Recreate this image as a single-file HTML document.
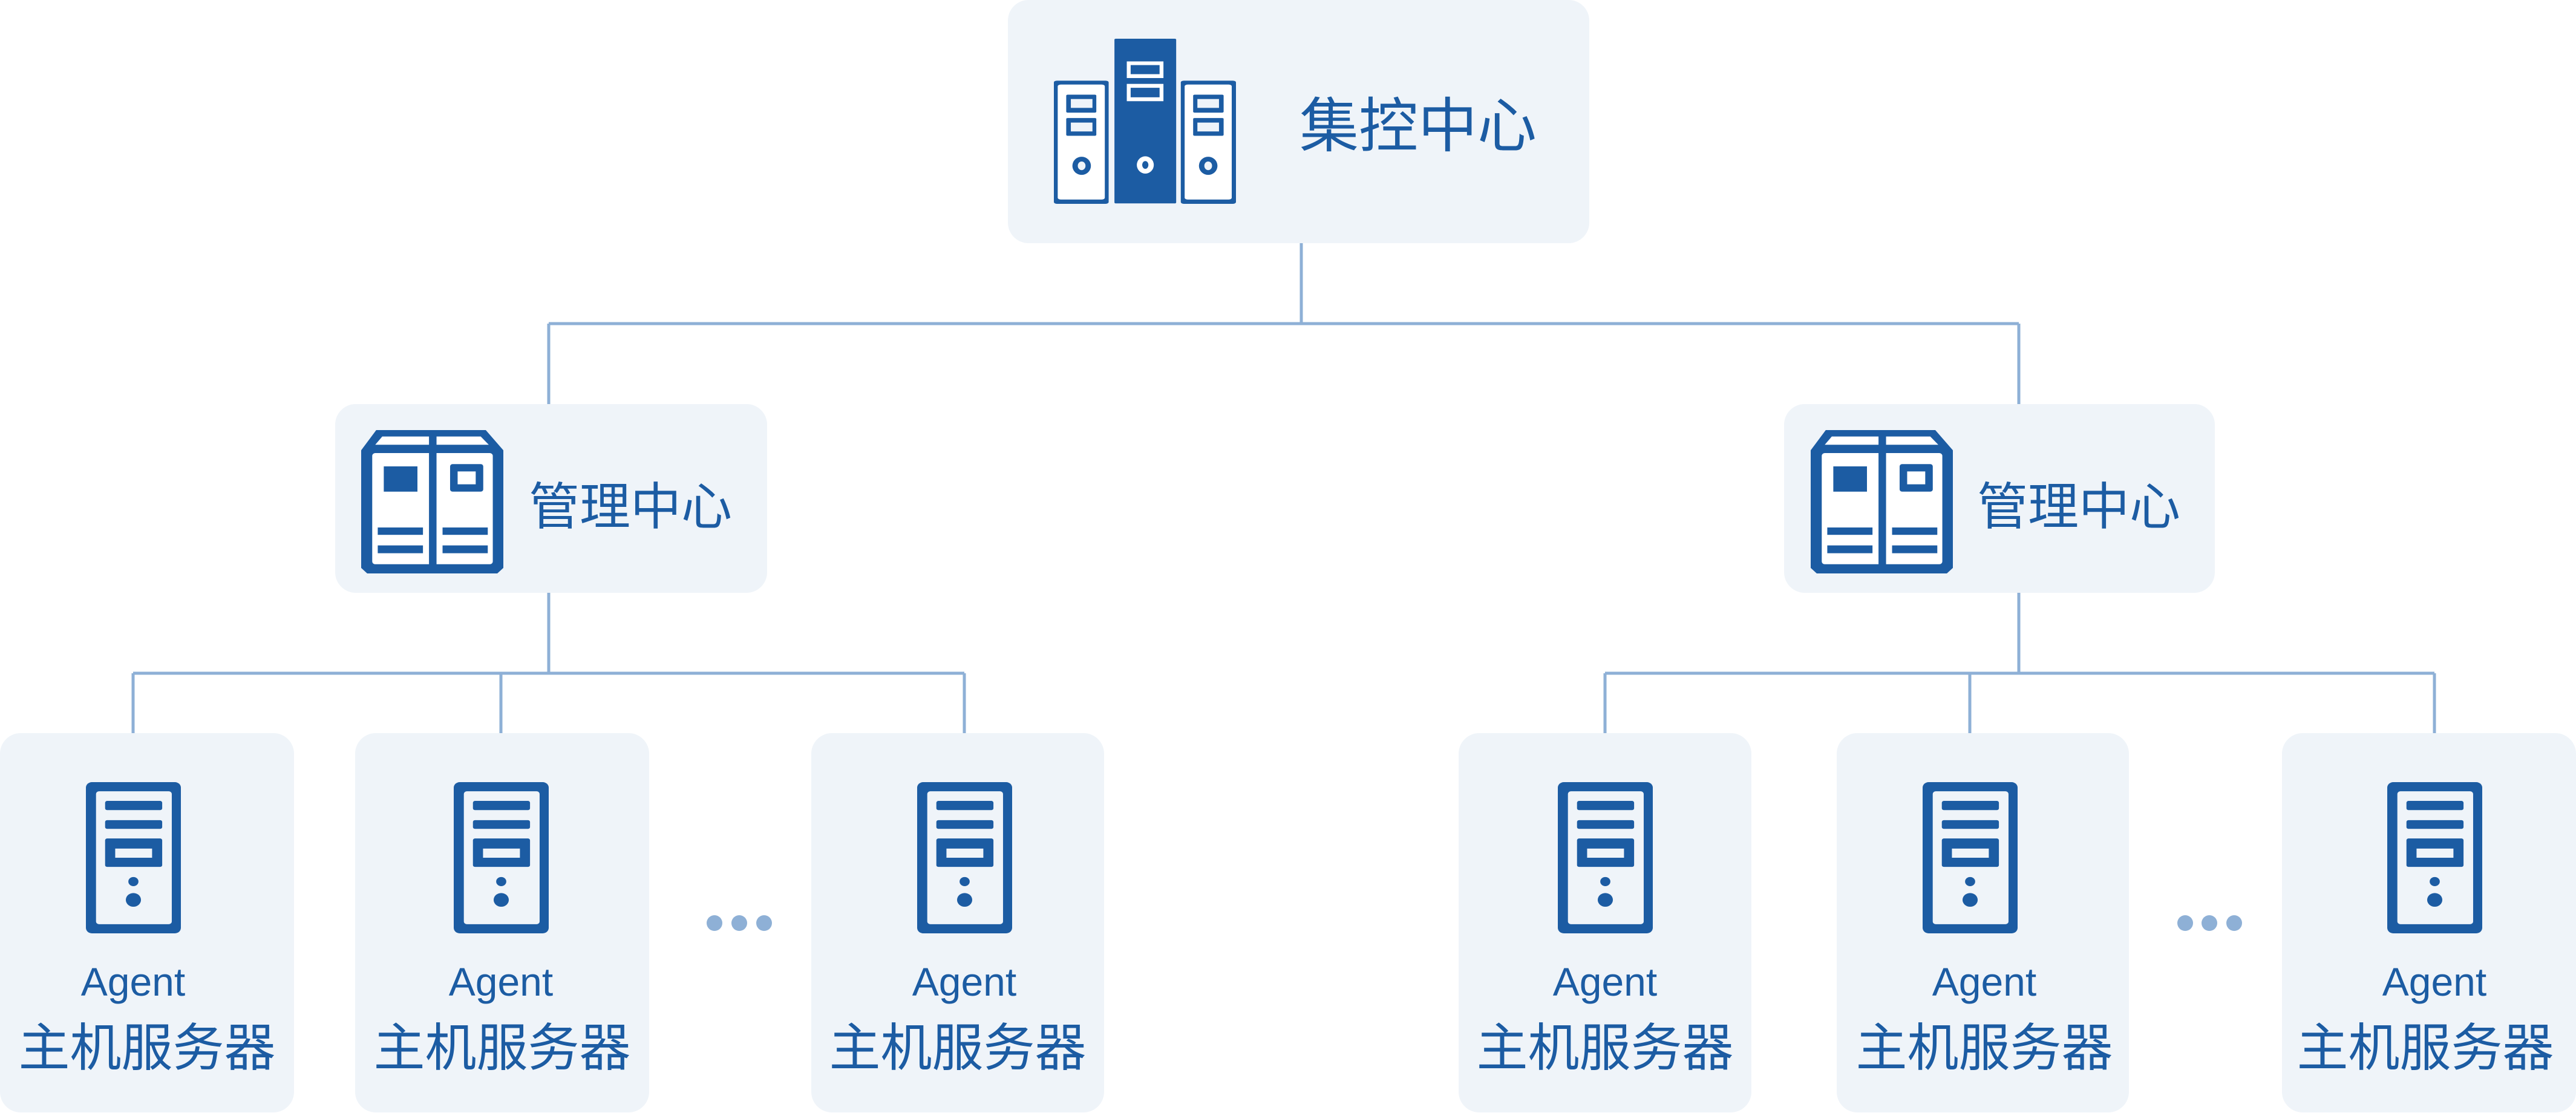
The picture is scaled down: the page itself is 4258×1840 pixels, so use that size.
<!DOCTYPE html>
<html><head><meta charset="utf-8"><style>
html,body{margin:0;padding:0;background:#fff;}
body{width:4258px;height:1840px;position:relative;overflow:hidden;font-family:"Liberation Sans","Noto Sans CJK SC",sans-serif;color:#1c5ca3;}
.box{position:absolute;background:#eff4f9;border-radius:34px;}
.t{position:absolute;white-space:nowrap;text-align:center;}
svg.ic{position:absolute;}
</style></head><body>
<svg style="position:absolute;left:0;top:0" width="4258" height="1840">
<g stroke="#8eb0d6" stroke-width="5" fill="none">
<line x1="2151" y1="400" x2="2151" y2="535"/>
<line x1="907" y1="535" x2="3337" y2="535"/>
<line x1="907" y1="535" x2="907" y2="670"/>
<line x1="3337" y1="535" x2="3337" y2="670"/>
<line x1="907" y1="978" x2="907" y2="1113"/>
<line x1="3337" y1="978" x2="3337" y2="1113"/>
<line x1="220" y1="1113" x2="1594" y2="1113"/>
<line x1="2653" y1="1113" x2="4024" y2="1113"/>
<line x1="220" y1="1113" x2="220" y2="1213"/>
<line x1="828" y1="1113" x2="828" y2="1213"/>
<line x1="1594" y1="1113" x2="1594" y2="1213"/>
<line x1="2653" y1="1113" x2="2653" y2="1213"/>
<line x1="3256" y1="1113" x2="3256" y2="1213"/>
<line x1="4024" y1="1113" x2="4024" y2="1213"/>
</g>
<g fill="#8eb0d6">
<circle cx="1181" cy="1526" r="13"/><circle cx="1222" cy="1526" r="13"/><circle cx="1263" cy="1526" r="13"/>
<circle cx="3612" cy="1526" r="13"/><circle cx="3652" cy="1526" r="13"/><circle cx="3693" cy="1526" r="13"/>
</g>
</svg>

<!-- top -->
<div class="box" style="left:1666px;top:0;width:961px;height:402px;"></div>
<svg class="ic" style="left:1742px;top:64px" width="301" height="273" viewBox="128 178 472 764" preserveAspectRatio="none">
<g fill="#1c5ca3">
<rect x="128" y="372" width="142" height="570" rx="8"/>
<rect x="457" y="372" width="143" height="570" rx="8"/>
<rect x="285" y="178" width="160" height="762" rx="4"/>
</g>
<g fill="#fff">
<rect x="138" y="390" width="122" height="532" rx="8"/>
<rect x="467" y="390" width="122" height="532" rx="8"/>
<rect x="317" y="283" width="95" height="77"/><rect x="317" y="387" width="95" height="80"/>
<ellipse cx="365" cy="762" rx="22" ry="40"/>
</g>
<g fill="#1c5ca3">
<rect x="327" y="300" width="75" height="42"/><rect x="327" y="405" width="75" height="44"/>
<ellipse cx="365" cy="762" rx="8" ry="18"/>
<rect x="160" y="437" width="78" height="83" rx="4"/><rect x="160" y="545" width="78" height="82" rx="4"/>
<rect x="489" y="437" width="79" height="83" rx="4"/><rect x="489" y="545" width="79" height="82" rx="4"/>
<ellipse cx="200" cy="766" rx="24" ry="42"/><ellipse cx="528" cy="766" rx="24" ry="42"/>
</g>
<g fill="#eff4f9">
<rect x="172" y="457" width="56" height="41"/><rect x="172" y="566" width="56" height="41"/>
<rect x="500" y="457" width="56" height="41"/><rect x="500" y="566" width="56" height="41"/>
<ellipse cx="200" cy="766" rx="10" ry="20"/><ellipse cx="528" cy="766" rx="10" ry="20"/>
</g>
</svg>
<div class="t" style="left:2148px;top:148px;font-size:98px;line-height:120px;">集控中心</div>

<!-- mid boxes -->
<div class="box" style="left:554px;top:668px;width:714px;height:312px;"></div>
<div class="box" style="left:2949px;top:668px;width:712px;height:312px;"></div>

<svg width="0" height="0" style="position:absolute">
<defs>
<g id="mid">
<polygon fill="#1c5ca3" points="750,78 968,78 1003,122 1003,378 991,390 732,390 720,378 720,122"/>
<rect fill="#fff" x="742" y="128" width="240" height="242" rx="6"/>
<polygon fill="#fff" points="762,92 958,92 974,110 748,110"/>
<rect fill="#1c5ca3" x="855" y="80" width="15" height="300"/>
<rect fill="#1c5ca3" x="765" y="157" width="67" height="55"/>
<rect fill="#1c5ca3" x="897" y="152" width="66" height="60" rx="5"/>
<rect fill="#fff" x="912" y="168" width="36" height="28"/>
<rect fill="#1c5ca3" x="753" y="290" width="90" height="16"/>
<rect fill="#1c5ca3" x="753" y="329" width="90" height="17"/>
<rect fill="#1c5ca3" x="882" y="290" width="90" height="16"/>
<rect fill="#1c5ca3" x="882" y="329" width="90" height="17"/>
</g>
<g id="leaf">
<rect fill="#1c5ca3" x="174" y="847" width="188" height="330" rx="12"/>
<rect fill="#eff4f9" x="194" y="867" width="150" height="290" rx="6"/>
<rect fill="#1c5ca3" x="212" y="888" width="113" height="20" rx="4"/>
<rect fill="#1c5ca3" x="212" y="930" width="113" height="19" rx="4"/>
<rect fill="#1c5ca3" x="212" y="970" width="113" height="62" rx="4"/>
<rect fill="#eff4f9" x="232" y="992" width="73" height="20"/>
<ellipse fill="#1c5ca3" cx="268" cy="1064" rx="10" ry="10"/>
<ellipse fill="#1c5ca3" cx="268" cy="1104" rx="15" ry="15"/>
</g>
</defs></svg>

<svg class="ic" style="left:597px;top:711px" width="235" height="237" viewBox="720 78 283 312" preserveAspectRatio="none"><use href="#mid"/></svg>
<svg class="ic" style="left:2993px;top:711px" width="235" height="237" viewBox="720 78 283 312" preserveAspectRatio="none"><use href="#mid"/></svg>
<div class="t" style="left:874px;top:788px;font-size:84px;line-height:100px;">管理中心</div>
<div class="t" style="left:3268px;top:788px;font-size:84px;line-height:100px;">管理中心</div>

<!-- leaves -->
<div class="box" style="left:0;top:1212px;width:486px;height:627px;"></div>
<div class="box" style="left:587px;top:1212px;width:486px;height:627px;"></div>
<div class="box" style="left:1341px;top:1212px;width:484px;height:627px;"></div>
<div class="box" style="left:2411px;top:1212px;width:484px;height:627px;"></div>
<div class="box" style="left:3036px;top:1212px;width:483px;height:627px;"></div>
<div class="box" style="left:3772px;top:1212px;width:486px;height:627px;"></div>

<svg class="ic" style="left:142px;top:1293px" width="157" height="250" viewBox="174 847 188 330" preserveAspectRatio="none"><use href="#leaf"/></svg>
<svg class="ic" style="left:750px;top:1293px" width="157" height="250" viewBox="174 847 188 330" preserveAspectRatio="none"><use href="#leaf"/></svg>
<svg class="ic" style="left:1516px;top:1293px" width="157" height="250" viewBox="174 847 188 330" preserveAspectRatio="none"><use href="#leaf"/></svg>
<svg class="ic" style="left:2575px;top:1293px" width="157" height="250" viewBox="174 847 188 330" preserveAspectRatio="none"><use href="#leaf"/></svg>
<svg class="ic" style="left:3178px;top:1293px" width="157" height="250" viewBox="174 847 188 330" preserveAspectRatio="none"><use href="#leaf"/></svg>
<svg class="ic" style="left:3946px;top:1293px" width="157" height="250" viewBox="174 847 188 330" preserveAspectRatio="none"><use href="#leaf"/></svg>

<div class="t" style="left:20px;width:400px;top:1585px;font-size:66px;line-height:76px;">Agent</div>
<div class="t" style="left:628px;width:400px;top:1585px;font-size:66px;line-height:76px;">Agent</div>
<div class="t" style="left:1394px;width:400px;top:1585px;font-size:66px;line-height:76px;">Agent</div>
<div class="t" style="left:2453px;width:400px;top:1585px;font-size:66px;line-height:76px;">Agent</div>
<div class="t" style="left:3080px;width:400px;top:1585px;font-size:66px;line-height:76px;">Agent</div>
<div class="t" style="left:3824px;width:400px;top:1585px;font-size:66px;line-height:76px;">Agent</div>

<div class="t" style="left:23px;width:440px;top:1684px;font-size:85px;line-height:100px;">主机服务器</div>
<div class="t" style="left:610px;width:440px;top:1684px;font-size:85px;line-height:100px;">主机服务器</div>
<div class="t" style="left:1363px;width:440px;top:1684px;font-size:85px;line-height:100px;">主机服务器</div>
<div class="t" style="left:2433px;width:440px;top:1684px;font-size:85px;line-height:100px;">主机服务器</div>
<div class="t" style="left:3060px;width:440px;top:1684px;font-size:85px;line-height:100px;">主机服务器</div>
<div class="t" style="left:3789px;width:440px;top:1684px;font-size:85px;line-height:100px;">主机服务器</div>
</body></html>
